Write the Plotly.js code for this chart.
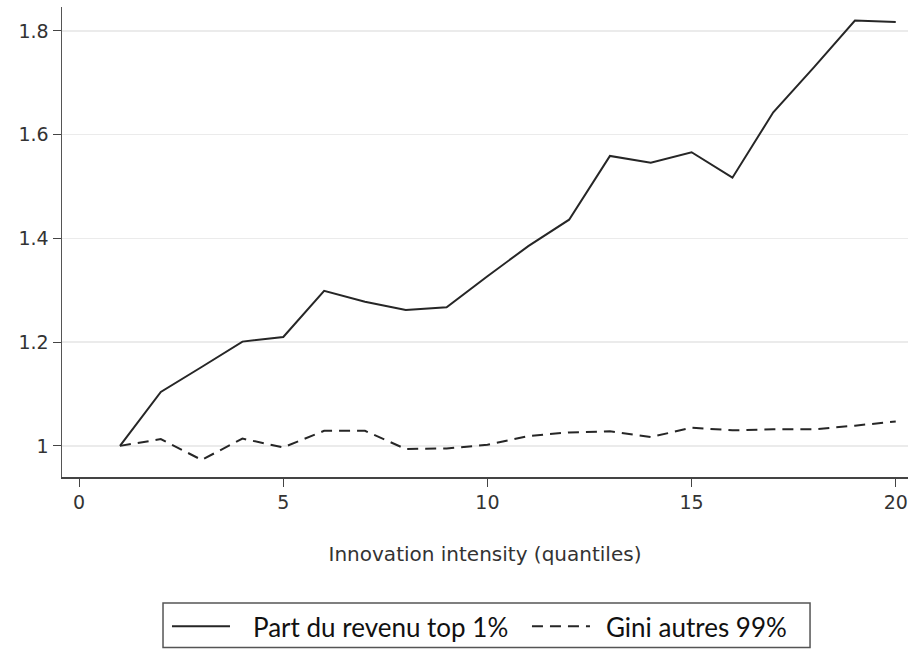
<!DOCTYPE html>
<html>
<head>
<meta charset="utf-8">
<script src="https://cdn.plot.ly/plotly-3.0.1.min.js"></script>
<style>html,body{margin:0;padding:0;background:#fff;}#chart{width:910px;height:649px;}</style>
</head>
<body>
<div id="chart"></div>
<script>
const quantiles = [1,2,3,4,5,6,7,8,9,10,11,12,13,14,15,16,17,18,19,20];
const topShare = [1.000,1.104,1.152,1.201,1.210,1.299,1.278,1.262,1.267,1.327,1.385,1.436,1.559,1.546,1.566,1.517,1.643,1.730,1.820,1.817];
const giniOthers = [1.000,1.013,0.973,1.014,0.997,1.029,1.029,0.994,0.995,1.002,1.019,1.026,1.028,1.017,1.035,1.030,1.032,1.032,1.039,1.047];
const seriesNames = ["Part du revenu top 1%", "Gini autres 99%"];
const xTicks = [0,5,10,15,20];
const yTicks = [1,1.2,1.4,1.6,1.8];
const yTickText = ["1","1.2","1.4","1.6","1.8"];

const axisFont = 'DejaVu Sans, Liberation Sans, sans-serif';
const legendFont = {family: 'Lato, Noto Sans, sans-serif', size: 26, color: '#111'};
const traces = [
  {x: quantiles, y: topShare, name: seriesNames[0], type: 'scatter', mode: 'lines',
   legend: 'legend', line: {color: '#262626', width: 2}},
  {x: quantiles, y: giniOthers, name: seriesNames[1], type: 'scatter', mode: 'lines',
   legend: 'legend2', line: {color: '#262626', width: 2, dash: '11px,7px'}}
];
const layout = {
  width: 910, height: 649,
  margin: {l: 62, r: 2, t: 7, b: 172, autoexpand: false},
  paper_bgcolor: '#fff', plot_bgcolor: '#fff',
  showlegend: true,
  xaxis: {
    range: [-0.42, 20.3], tickvals: xTicks, ticks: 'outside', ticklen: 8, tickcolor: '#444',
    showgrid: false, zeroline: false, showline: true, linecolor: '#444', linewidth: 1.5,
    tickfont: {family: axisFont, size: 19, color: '#333'},
    automargin: false,
    title: {text: 'Innovation intensity (quantiles)', standoff: 34,
            font: {family: axisFont, size: 20, color: '#333'}}
  },
  yaxis: {
    range: [0.94, 1.846], tickvals: yTicks, ticktext: yTickText, ticks: 'outside', ticklen: 8, tickcolor: '#444',
    showgrid: true, gridcolor: '#ebebeb', gridwidth: 1.5, zeroline: false, showline: true,
    linecolor: '#555', linewidth: 1.5, automargin: false,
    tickfont: {family: axisFont, size: 19, color: '#333'}
  },
  legend: {
    orientation: 'h', x: 0.1241, xanchor: 'left', y: -0.268, yanchor: 'top',
    borderwidth: 0, bgcolor: 'rgba(0,0,0,0)', font: legendFont, itemwidth: 76
  },
  legend2: {
    orientation: 'h', x: 0.5496, xanchor: 'left', y: -0.268, yanchor: 'top',
    borderwidth: 0, bgcolor: 'rgba(0,0,0,0)', font: legendFont, itemwidth: 69
  },
  shapes: [
    {type: 'rect', xref: 'paper', yref: 'paper', x0: 0.1194, x1: 0.8842, y0: -0.268, y1: -0.3628,
     line: {color: '#555', width: 1.5}, fillcolor: 'rgba(0,0,0,0)', layer: 'below'}
  ]
};
Plotly.newPlot('chart', traces, layout, {displayModeBar: false, staticPlot: true}).then(function (gd) {
  gd.querySelectorAll('.legendlines path').forEach(function (p) { p.setAttribute('d', 'M5,0h58'); });
});
</script>
</body>
</html>
